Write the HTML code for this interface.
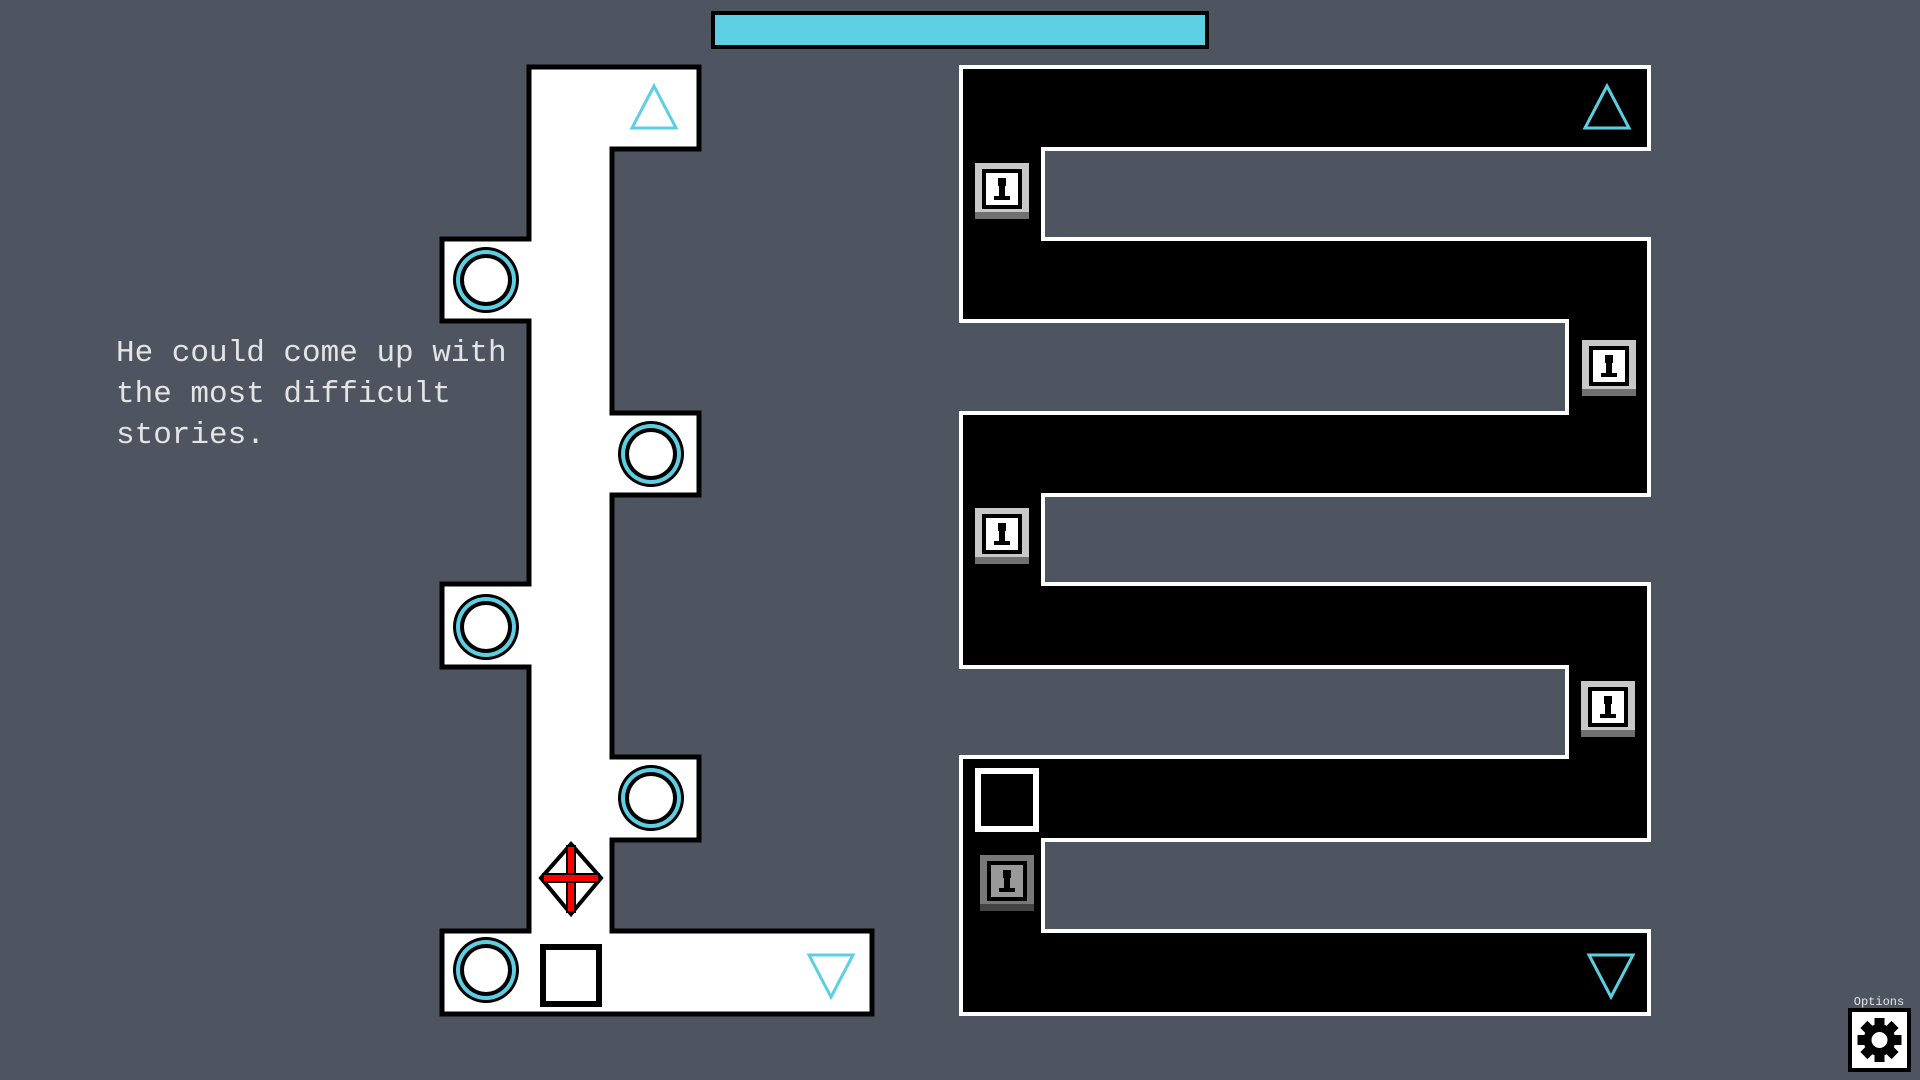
<!DOCTYPE html>
<html><head><meta charset="utf-8"><style>
html,body{margin:0;padding:0;background:#4f5560;width:1920px;height:1080px;overflow:hidden}
svg{display:block}
</style></head><body>
<svg width="1920" height="1080" viewBox="0 0 1920 1080" xmlns="http://www.w3.org/2000/svg">
<defs>
<g id="circ">
<circle r="33" fill="#000"/>
<circle r="30" fill="#5ccfe3"/>
<circle r="26" fill="#000"/>
<circle r="22" fill="#fff"/>
</g>
<g id="key">
<rect x="-29" y="-29" width="58" height="58" fill="#000"/>
<rect x="-27" y="-27" width="54" height="54" fill="#c8c8c8"/>
<rect x="-27" y="22" width="54" height="7" fill="#707070"/>
<rect x="-20" y="-21" width="40" height="40" fill="#000"/>
<rect x="-16" y="-17" width="32" height="32" fill="#fff"/>
<rect x="-4" y="-12" width="8" height="8" fill="#000"/>
<rect x="-3" y="-5" width="6" height="12" fill="#000"/>
<rect x="-8" y="6" width="16" height="4" fill="#000"/>
</g>
</defs>
<rect x="711" y="11" width="498" height="38" fill="#000"/>
<rect x="715" y="15" width="490" height="30" fill="#5ccfe3"/>

<path d="M529 67 H699 V149 H612 V413 H699 V495 H612 V757 H699 V840 H612 V931 H872 V1014 H442 V931 H529 V667 H442 V584 H529 V321 H442 V239 H529 Z" fill="#fff" stroke="#000" stroke-width="5"/>
<use href="#circ" x="486" y="280"/>
<use href="#circ" x="651" y="454"/>
<use href="#circ" x="486" y="627"/>
<use href="#circ" x="651" y="798"/>
<use href="#circ" x="486" y="970"/>
<polygon points="654,86 632,128 676,128" fill="none" stroke="#5ccfe3" stroke-width="3"/>
<polygon points="809,955 853,955 831,997" fill="none" stroke="#5ccfe3" stroke-width="3"/>
<rect x="543" y="947" width="56" height="57" fill="#fff" stroke="#000" stroke-width="6"/>
<polygon points="571,844 601,878 571,914 541,878" fill="#fff" stroke="#000" stroke-width="4"/>
<rect x="567" y="846" width="8" height="66" fill="#f00" stroke="#000" stroke-width="2"/>
<rect x="543" y="874" width="56" height="8" fill="#f00" stroke="#000" stroke-width="2"/>

<path d="M961 67 H1649 V149 H1043 V239 H1649 V495 H1043 V584 H1649 V840 H1043 V931 H1649 V1014 H961 V757 H1567 V667 H961 V413 H1567 V321 H961 Z" fill="#000" stroke="#fff" stroke-width="4"/>
<polygon points="1607,86 1585,128 1629,128" fill="none" stroke="#5ccfe3" stroke-width="3"/>
<polygon points="1589,955 1633,955 1611,997" fill="none" stroke="#5ccfe3" stroke-width="3"/>
<use href="#key" x="1002" y="190"/>
<use href="#key" x="1609" y="367"/>
<use href="#key" x="1002" y="535"/>
<use href="#key" x="1608" y="708"/>
<g opacity="0.6"><use href="#key" x="1007" y="882"/></g>
<rect x="978" y="771" width="58" height="58" fill="#000" stroke="#fff" stroke-width="6"/>

<g font-family="Liberation Mono, monospace" font-size="31" fill="#e4e4e4">
<text x="116" y="361">He could come up with</text>
<text x="116" y="402">the most difficult</text>
<text x="116" y="443">stories.</text>
</g>

<text x="1879" y="1005" font-family="Liberation Mono, monospace" font-size="12" fill="#e4e4e4" text-anchor="middle">Options</text>
<rect x="1848" y="1008" width="63" height="64" fill="#000"/>
<rect x="1852" y="1012" width="55" height="56" fill="#fff"/>
<g transform="translate(1879.5,1040)" fill="#000">
<circle r="16"/>
<rect x="-5" y="-22" width="10" height="44"/>
<rect x="-22" y="-5" width="44" height="10"/>
<rect x="-5" y="-22" width="10" height="44" transform="rotate(45)"/>
<rect x="-5" y="-22" width="10" height="44" transform="rotate(-45)"/>
<circle r="8" fill="#fff"/>
</g>
</svg>
</body></html>
